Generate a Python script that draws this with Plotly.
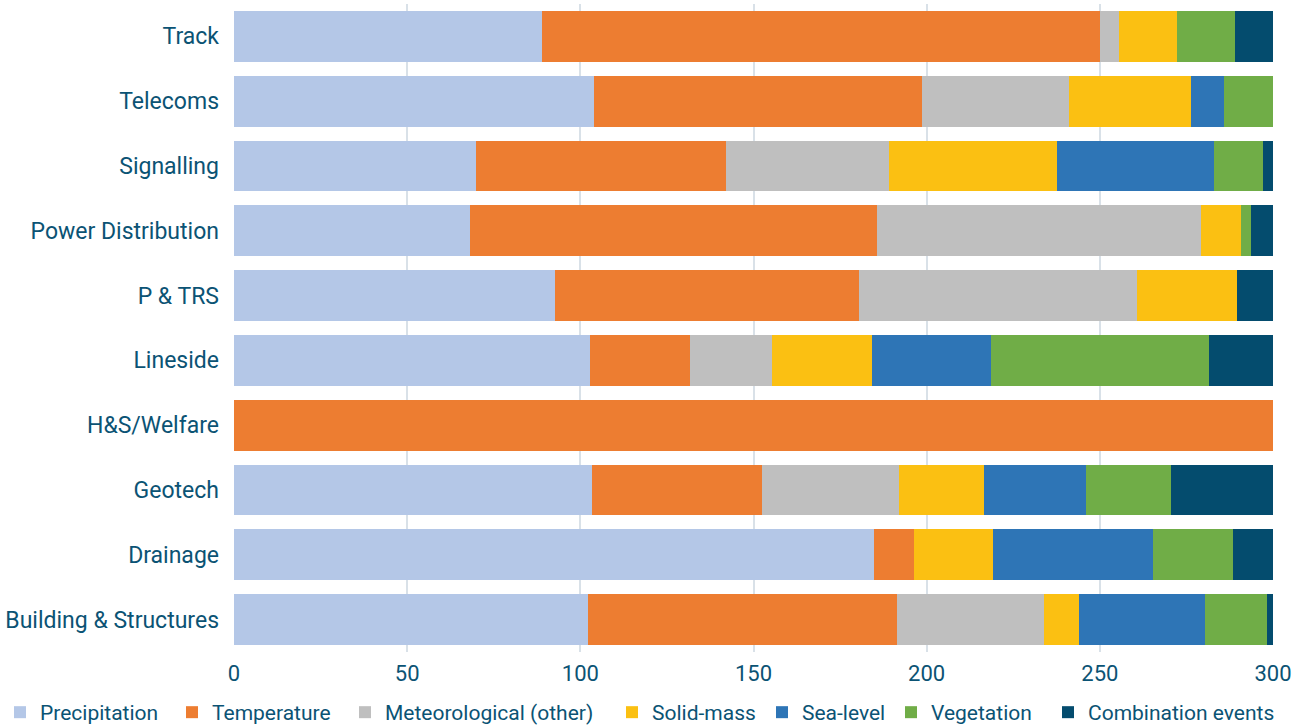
import plotly.graph_objects as go

categories = ["Track", "Telecoms", "Signalling", "Power Distribution", "P & TRS",
              "Lineside", "H&S/Welfare", "Geotech", "Drainage", "Building & Structures"]

precipitation = [88.9, 104.0, 69.9, 68.2, 92.7, 102.8, 0, 103.4, 184.8, 102.2]
temperature   = [161.2, 94.7, 72.1, 117.5, 87.8, 28.9, 300, 49.1, 11.6, 89.2]
meteorological = [5.3, 42.3, 47.0, 93.5, 80.2, 23.6, 0, 39.4, 0, 42.6]
solid_mass    = [16.8, 35.3, 48.6, 11.6, 29.0, 28.9, 0, 24.7, 22.8, 10.0]
sea_level     = [0, 9.5, 45.3, 0, 0, 34.4, 0, 29.4, 46.2, 36.4]
vegetation    = [16.9, 14.2, 14.2, 2.8, 0, 62.9, 0, 24.6, 23.1, 17.9]
combination   = [10.9, 0, 2.9, 6.4, 10.3, 18.5, 0, 29.4, 11.5, 1.7]

series = [
    ("Precipitation", precipitation, "#b4c7e7", 127),
    ("Temperature", temperature, "#ed7d31", 128),
    ("Meteorological (other)", meteorological, "#bfbfbf", 222),
    ("Solid-mass", solid_mass, "#fbc012", 105),
    ("Sea-level", sea_level, "#2e75b6", 84),
    ("Vegetation", vegetation, "#70ad47", 112),
    ("Combination events", combination, "#044c6e", 182),
]

text_color = "#0b5374"
font_family = "Roboto"

fig = go.Figure()
for name, vals, color, lw in series:
    fig.add_trace(go.Bar(
        y=categories, x=vals, name=name, orientation="h",
        marker=dict(color=color, line=dict(width=0)),
        legendwidth=lw,
    ))

fig.update_layout(
    barmode="stack",
    bargap=0.216,
    width=1303, height=726,
    margin=dict(l=234, r=30, t=4, b=74, autoexpand=False),
    plot_bgcolor="white", paper_bgcolor="white",
    font=dict(family=font_family, size=20, color=text_color),
    xaxis=dict(range=[0, 300], tickvals=[0, 50, 100, 150, 200, 250, 300],
               showgrid=True, gridcolor="#d9e1e8", gridwidth=1.5,
               zeroline=False, showline=False, ticks="",
               ticklabelstandoff=6,
               tickfont=dict(size=22, color=text_color)),
    yaxis=dict(categoryorder="array", categoryarray=categories,
               autorange="reversed", showgrid=False, showline=False,
               ticks="", ticklabelstandoff=14,
               tickfont=dict(size=23, color=text_color)),
    legend=dict(orientation="h", xref="paper", yref="paper",
                x=-234 / 1039, y=-0.0934, xanchor="left", yanchor="middle",
                font=dict(size=21, color=text_color),
                bgcolor="rgba(0,0,0,0)",
                traceorder="normal", itemwidth=30),
    showlegend=True,
)

fig.write_html("out.html")
